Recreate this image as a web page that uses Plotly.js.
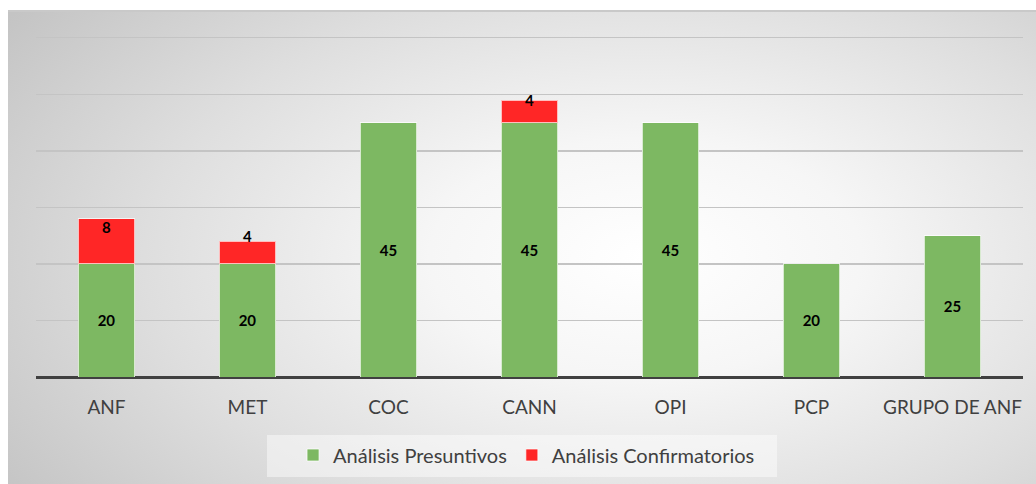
<!DOCTYPE html>
<html>
<head>
<meta charset="utf-8">
<script src="https://cdn.plot.ly/plotly-3.0.1.min.js"></script>
<style>
  html, body { margin: 0; padding: 0; background: #ffffff; }
  #wrap { position: relative; width: 1036px; height: 484px; overflow: hidden; }
  #bg { position: absolute; left: 8px; top: 10px; width: 1028px; height: 474px;
        border-top: 2px solid #c9c9c9; box-sizing: border-box;
        background: radial-gradient(ellipse 75% 90% at 62% 52%, #ffffff 0%, #f6f6f6 28%, #dedede 65%, #c4c4c4 100%); }
  #chart { position: absolute; left: 0; top: 0; width: 1036px; height: 484px; }
</style>
</head>
<body>
<div id="wrap">
  <div id="bg"></div>
  <div id="chart"></div>
</div>
<script>
const categories = ["ANF", "MET", "COC", "CANN", "OPI", "PCP", "GRUPO DE ANF"];
const presuntivos = [20, 20, 45, 45, 45, 20, 25];
const confirmatorios = [8, 4, null, 4, null, null, null];
const seriesNames = ["Análisis Presuntivos", "Análisis Confirmatorios"];

const FONT = 'Lato, "Open Sans", sans-serif';
const LABEL_FONT = { family: FONT, size: 15, color: '#000000', weight: 'bold' };
// vertical nudges (px) of the red data labels, as placed in the original
const redLabelShift = [-8, 5, 0, 0, 0, 0, 0];

const traces = [
  {
    type: 'bar', name: seriesNames[0], x: categories, y: presuntivos,
    marker: { color: '#7db862', line: { color: 'rgba(255,255,255,0.7)', width: 1 } },
    text: presuntivos.map(v => v == null ? '' : String(v)),
    textposition: 'inside', insidetextanchor: 'middle', constraintext: 'none',
    textangle: 0,
    textfont: LABEL_FONT,
    hoverinfo: 'none'
  },
  {
    type: 'bar', name: seriesNames[1], x: categories, y: confirmatorios,
    marker: { color: '#ff2626', line: { color: 'rgba(255,255,255,0.7)', width: 1 } },
    hoverinfo: 'none'
  }
];

const annotations = [];
categories.forEach((c, i) => {
  if (confirmatorios[i] != null) {
    annotations.push({
      x: c, y: presuntivos[i] + confirmatorios[i], xref: 'x', yref: 'y',
      text: String(confirmatorios[i]), showarrow: false,
      yanchor: 'middle', xanchor: 'center', yshift: redLabelShift[i],
      font: LABEL_FONT
    });
  }
});

const layout = {
  width: 1036, height: 484,
  margin: { l: 36, r: 13, t: 35, b: 107, autoexpand: false },
  paper_bgcolor: 'rgba(0,0,0,0)',
  plot_bgcolor: 'rgba(0,0,0,0)',
  barmode: 'stack',
  bargap: 0.6,
  showlegend: true,
  font: { family: FONT, color: '#404040' },
  xaxis: {
    type: 'category',
    tickfont: { family: FONT, size: 19, color: '#404040' },
    ticks: '', showgrid: false, showline: false,
    ticklabelstandoff: 17
  },
  yaxis: {
    range: [0, 60.5], dtick: 10, tick0: 0,
    showticklabels: false, ticks: '',
    showgrid: true, gridcolor: '#c4c4c4', gridwidth: 1.3,
    zeroline: true, zerolinecolor: '#404040', zerolinewidth: 3,
    showline: false
  },
  legend: {
    orientation: 'h', x: 0.497, xanchor: 'center', y: -(455 - 377) / 342, yanchor: 'middle',
    bgcolor: 'rgba(0,0,0,0)', font: { family: FONT, size: 20, color: '#404040' },
    traceorder: 'normal'
  },
  annotations: annotations,
  shapes: [
    { type: 'rect', xref: 'paper', yref: 'paper',
      x0: (267 - 36) / 987, x1: (777 - 36) / 987,
      y0: -(477 - 377) / 342, y1: -(435 - 377) / 342,
      line: { width: 0 }, fillcolor: 'rgba(255,255,255,0.45)', layer: 'below' }
  ]
};

Plotly.newPlot('chart', traces, layout, { displayModeBar: false, staticPlot: true });
</script>
</body>
</html>
